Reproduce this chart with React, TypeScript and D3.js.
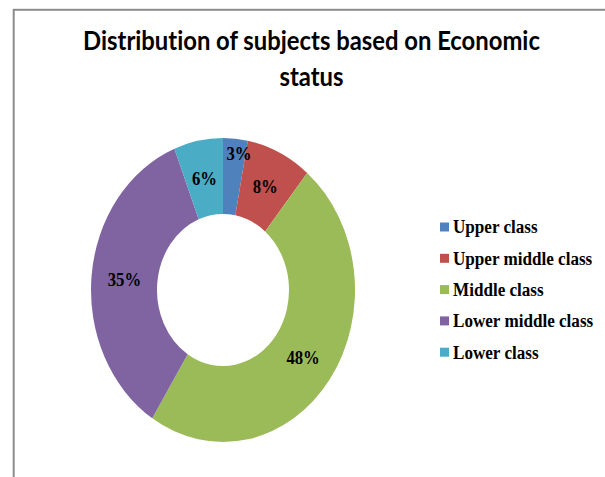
import React, { useEffect, useRef } from "react";
import * as d3 from "d3";

const categories = ["Upper class", "Upper middle class", "Middle class", "Lower middle class", "Lower class"];
const values = [3, 8, 48, 35, 6];
const labels = ["3%", "8%", "48%", "35%", "6%"];
const colors = ["#4F81BD", "#C0504D", "#9BBB59", "#8064A2", "#4BACC6"];
const titleLines = ["Distribution of subjects based on Economic", "status"];

const W = 605;
const H = 477;

export default function App() {
  const ref = useRef<SVGSVGElement | null>(null);

  useEffect(() => {
    const svg = d3.select(ref.current);
    svg.selectAll("*").remove();

    // outer frame
    svg.append("rect")
      .attr("x", 13.7).attr("y", 9.8)
      .attr("width", 800).attr("height", 800)
      .attr("fill", "white")
      .attr("stroke", "#8c8c8c").attr("stroke-width", 2);

    // title
    const tg = svg.append("g");
    const t1 = tg.append("text")
      .attr("x", 0).attr("y", 50)
      .attr("text-anchor", "middle")
      .attr("font-family", "Lato, 'Open Sans', sans-serif")
      .attr("font-weight", "bold")
      .attr("font-size", 27)
      .style("font-variant-ligatures", "none")
      .style("font-feature-settings", "'liga' 0, 'clig' 0")
      .attr("fill", "#000")
      .text(titleLines[0]);
    tg.append("text")
      .attr("x", 0).attr("y", 86)
      .attr("text-anchor", "middle")
      .attr("font-family", "Lato, 'Open Sans', sans-serif")
      .attr("font-weight", "bold")
      .attr("font-size", 27)
      .style("font-variant-ligatures", "none")
      .attr("fill", "#000")
      .text(titleLines[1]);
    const w1 = (t1.node() as SVGTextElement).getComputedTextLength();
    const sxT = 457 / w1;
    tg.attr("transform", `translate(311.5,0) scale(${sxT},1)`);

    // donut
    const cx = 223, cy = 290;
    const rOuter = 132, rInner = 66;
    const yScale = 152 / 132;
    const textSx = 0.88;

    const pie = d3.pie<number>().sort(null).value((d) => d);
    const arcs = pie(values);
    const arc = d3.arc<d3.PieArcDatum<number>>().innerRadius(rInner).outerRadius(rOuter);

    const dg = svg.append("g").attr("transform", `translate(${cx},${cy}) scale(1,${yScale})`);
    dg.selectAll("path")
      .data(arcs)
      .enter()
      .append("path")
      .attr("d", arc)
      .attr("fill", (_d, i) => colors[i]);

    const lg = svg.append("g");
    arcs.forEach((a, i) => {
      const mid = (a.startAngle + a.endAngle) / 2;
      const frac = (a.endAngle - a.startAngle) / (2 * Math.PI);
      const r = frac < 0.05 ? rOuter * 0.905 : (rInner + rOuter) / 2;
      const ang = frac < 0.05 ? mid + 0.04 : mid;
      const x = cx + Math.sin(ang) * r;
      const y = cy - Math.cos(ang) * r * yScale;
      lg.append("text")
        .attr("transform", `translate(${x},${y + 6.5}) scale(${textSx},1)`)
        .attr("text-anchor", "middle")
        .attr("font-family", "'Liberation Serif', 'Times New Roman', serif")
        .attr("font-weight", "bold")
        .attr("font-size", 19)
        .attr("fill", "#000")
        .text(labels[i]);
    });

    // legend
    const leg = svg.append("g");
    categories.forEach((c, i) => {
      const yc = 227 + i * 31.3;
      leg.append("rect")
        .attr("x", 440).attr("y", yc - 4.5)
        .attr("width", 9).attr("height", 9)
        .attr("fill", colors[i]);
      leg.append("text")
        .attr("transform", `translate(453,${yc + 6.3}) scale(0.9,1)`)
        .attr("font-family", "'Liberation Serif', 'Times New Roman', serif")
        .attr("font-weight", "bold")
        .attr("font-size", 19)
        .attr("fill", "#000")
        .text(c);
    });
  }, []);

  return (
    <svg
      ref={ref}
      width={W}
      height={H}
      style={{ position: "absolute", left: 0, top: 0, background: "white" }}
    />
  );
}
